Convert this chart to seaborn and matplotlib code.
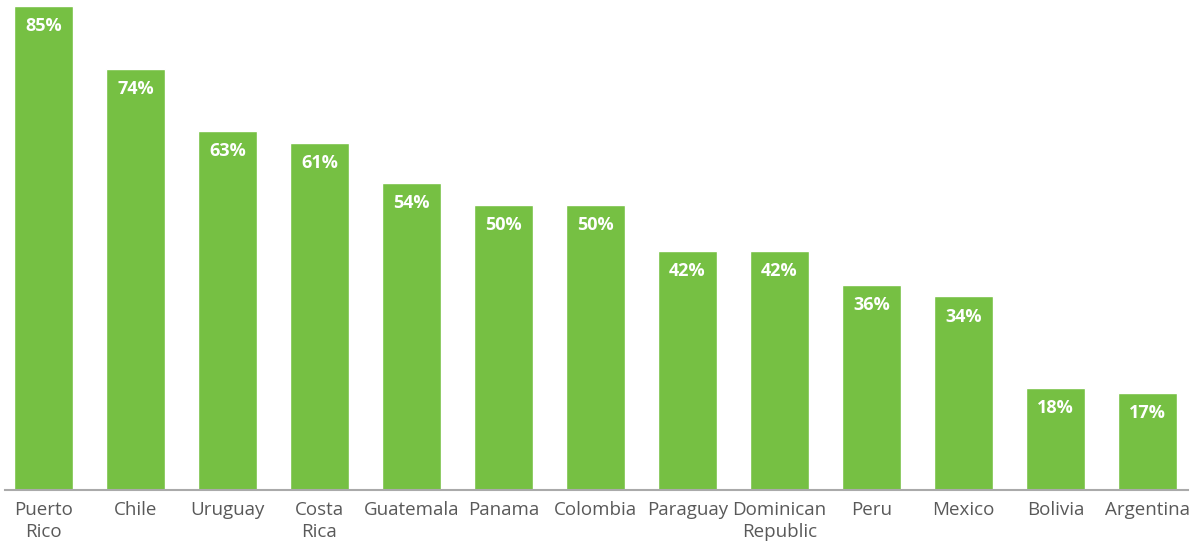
import matplotlib
matplotlib.use("Agg")
import matplotlib.pyplot as plt
import seaborn as sns
import pandas as pd

countries = ["Puerto\nRico", "Chile", "Uruguay", "Costa\nRica", "Guatemala", "Panama",
             "Colombia", "Paraguay", "Dominican\nRepublic", "Peru", "Mexico", "Bolivia", "Argentina"]
values = [85, 74, 63, 61, 54, 50, 50, 42, 42, 36, 34, 18, 17]
labels = ["85%", "74%", "63%", "61%", "54%", "50%", "50%", "42%", "42%", "36%", "34%", "18%", "17%"]

sns.set_style("white")
plt.rcParams['font.family'] = ['Open Sans', 'DejaVu Sans']

df = pd.DataFrame({"country": countries, "value": values})

fig = plt.figure(figsize=(11.96, 5.44), dpi=100)
ax = fig.add_axes([5/1196, 54/544, 1183/1196, 490/544])
sns.barplot(data=df, x="country", y="value", color="#76C043", saturation=1, width=0.64, ax=ax)

for i, (v, lab) in enumerate(zip(values, labels)):
    ax.annotate(lab, (i, v), xytext=(0, -8), textcoords="offset points",
                ha="center", va="top", color="white", fontsize=13, fontweight="bold")

ax.set_xlim(-0.418, 12.44)
ax.set_ylim(0, 86.05)
ax.set_xlabel("")
ax.set_ylabel("")
ax.set_yticks([])
for s in ["top", "right", "left"]:
    ax.spines[s].set_visible(False)
ax.spines["bottom"].set_color("#aaaaaa")
ax.spines["bottom"].set_linewidth(1.5)
ax.tick_params(axis="x", length=0, pad=8, labelsize=13.5, labelcolor="#595959")
for t in ax.get_xticklabels():
    t.set_linespacing(1.25)

fig.savefig("out.png", dpi=100)
